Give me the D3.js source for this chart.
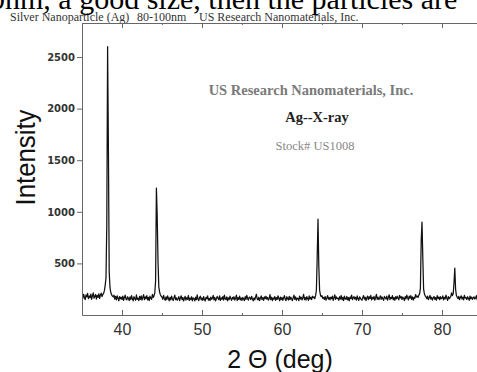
<!DOCTYPE html>
<html>
<head>
<meta charset="utf-8">
<script src="https://cdn.jsdelivr.net/npm/d3@7"></script>
<style>
  body { margin: 0; background: #fff; }
  svg { display: block; }
</style>
</head>
<body>
<div id="chart"></div>
<script>
// scan: 2-theta from 35.0 deg, 0.1 deg per reading (one row per degree)
var thetaStart = 35.0, thetaStep = 0.1;
var intensity = [
  188,162,201,171,148,195,177,210,158,183, // 35
  169,203,151,186,214,163,179,199,155,190, // 36
  172,205,160,193,212,178,198,210,236,290, // 37
  360,880,2600,1620,420,265,218,197,183,176, // 38
  192,154,181,146,186,163,138,179,157,172, // 39
  149,183,141,170,192,155,146,177,161,139, // 40
  175,150,188,156,137,178,160,143,194,152, // 41
  163,140,181,152,185,144,171,197,148,176, // 42
  158,187,146,170,139,182,163,151,199,170, // 43
  185,215,330,1230,960,520,275,222,196,182, // 44
  174,151,190,160,143,176,149,185,162,138, // 45
  171,147,183,155,140,169,192,150,166,143, // 46
  157,178,139,164,186,148,171,136,160,181, // 47
  145,168,152,189,141,163,150,177,138,166, // 48
  159,137,172,148,195,153,140,168,182,147, // 49
  165,142,179,150,137,170,158,186,144,161, // 50
  139,174,152,163,190,146,171,137,158,180, // 51
  162,148,185,141,166,153,178,145,192,157, // 52
  150,176,138,167,149,183,160,142,171,155, // 53
  177,145,162,193,140,168,151,182,147,165, // 54
  141,170,156,139,178,152,190,161,144,173, // 55
  168,149,181,158,137,166,147,175,201,154, // 56
  146,172,139,163,185,150,168,142,176,158, // 57
  182,153,170,144,161,197,149,172,140,165, // 58
  155,179,143,168,151,186,162,138,174,149, // 59
  170,142,164,188,153,140,177,159,145,181, // 60
  148,173,157,139,169,192,151,176,143,163, // 61
  161,140,184,155,172,146,166,199,150,170, // 62
  145,178,160,142,186,154,171,149,182,168, // 63
  175,158,190,240,560,930,480,240,195,178, // 64
  186,162,170,151,179,144,165,188,153,170, // 65
  147,172,158,183,141,167,196,152,175,160, // 66
  163,143,177,155,189,148,170,139,182,158, // 67
  152,180,146,169,137,174,160,192,149,166, // 68
  178,154,171,145,186,157,141,176,163,150, // 69
  144,169,188,153,172,140,165,183,150,177, // 70
  160,191,147,170,156,181,143,168,199,152, // 71
  173,149,164,186,151,175,158,142,180,166, // 72
  155,182,145,168,196,150,171,159,187,148, // 73
  169,143,177,156,183,162,147,190,165,178, // 74
  150,174,161,140,179,157,193,168,146,182, // 75
  163,188,152,176,145,171,160,198,175,183, // 76
  170,192,205,260,720,900,560,250,205,185, // 77
  176,158,183,149,168,190,154,172,145,166, // 78
  180,151,169,143,187,160,174,148,178,157, // 79
  162,185,147,171,156,193,165,141,179,158, // 80
  167,179,215,188,205,310,455,250,188,172, // 81
  158,181,149,170,186,155,173,146,190,164, // 82
  169,150,177,161,142,183,157,174,151,168, // 83
  176,155,165,188,147,172,160,181,153,170  // 84
];

var xTicks = [40, 50, 60, 70, 80];
var xMinorTicks = [35, 45, 55, 65, 75, 85];
var yTicks = [500, 1000, 1500, 2000, 2500];

var W = 477, H = 372;
var plot = {left: 82, top: 23, right: 482, bottom: 315};

var svg = d3.select("#chart").append("svg")
    .attr("width", W)
    .attr("height", H);

var x = d3.scaleLinear().domain([35, 85]).range([plot.left, plot.right]);
var y = d3.scaleLinear().domain([0, 2830]).range([plot.bottom, plot.top]);

// clipped text of the page above the picture
svg.append("text")
    .attr("x", -10).attr("y", 9)
    .style("font-family", "'Liberation Serif', serif")
    .style("font-size", "30px")
    .attr("fill", "#000")
    .text("0nm, a good size, then the particles are");

// caption line (white backing so it reads over the clipped line above)
var cap = svg.append("g")
    .style("font-family", "'Liberation Serif', serif")
    .style("font-size", "12px")
    .attr("fill", "#333");
cap.append("text").attr("x", 10).attr("y", 21).text("Silver Nanoparticle (Ag)");
cap.append("text").attr("x", 137).attr("y", 21).text("80-100nm");
cap.append("text").attr("x", 199).attr("y", 21).text("US Research Nanomaterials, Inc.");

// the scan
svg.append("clipPath").attr("id", "clip")
  .append("rect")
    .attr("x", plot.left).attr("y", plot.top)
    .attr("width", W - plot.left).attr("height", plot.bottom - plot.top);

var line = d3.line()
    .x(function(d, i) { return x(thetaStart + i * thetaStep); })
    .y(function(d) { return y(d); });

svg.append("path")
    .datum(intensity)
    .attr("clip-path", "url(#clip)")
    .attr("fill", "none")
    .attr("stroke", "#111")
    .attr("stroke-width", 1.25)
    .attr("stroke-linejoin", "round")
    .attr("d", line);

// axes
var axisColor = "#666";

var gx = svg.append("g")
    .attr("transform", "translate(0," + plot.bottom + ")")
    .call(d3.axisBottom(x).tickValues(xTicks).tickSizeInner(-5).tickSizeOuter(0).tickPadding(9));
gx.selectAll("text")
    .style("font-family", "'Liberation Sans', Arial, sans-serif")
    .style("font-size", "16px")
    .attr("fill", "#333");

svg.append("g")
    .attr("transform", "translate(0," + plot.bottom + ")")
    .call(d3.axisBottom(x).tickValues(xMinorTicks).tickSizeInner(-2).tickSizeOuter(0).tickFormat(""))
    .select(".domain").remove();

svg.append("g")
    .attr("transform", "translate(0," + plot.top + ")")
    .call(d3.axisTop(x).tickValues(xTicks).tickSizeInner(-5).tickSizeOuter(0).tickFormat(""));
svg.append("g")
    .attr("transform", "translate(0," + plot.top + ")")
    .call(d3.axisTop(x).tickValues(xMinorTicks).tickSizeInner(-2).tickSizeOuter(0).tickFormat(""))
    .select(".domain").remove();

var gy = svg.append("g")
    .attr("transform", "translate(" + plot.left + ",0)")
    .call(d3.axisLeft(y).tickValues(yTicks).tickFormat(d3.format("d"))
      .tickSizeInner(5).tickSizeOuter(0).tickPadding(2));
gy.selectAll("text")
    .style("font-family", "'DejaVu Sans', sans-serif")
    .style("font-size", "10px")
    .style("font-weight", "bold")
    .attr("fill", "#333");

svg.selectAll(".domain, .tick line").attr("stroke", axisColor);

// axis titles
svg.append("text")
    .attr("transform", "translate(34.5,157.5) rotate(-90)")
    .attr("text-anchor", "middle")
    .style("font-family", "'Liberation Sans', Arial, sans-serif")
    .style("font-size", "27px")
    .attr("textLength", 96)
    .attr("lengthAdjust", "spacingAndGlyphs")
    .attr("fill", "#111")
    .text("Intensity");

svg.append("text")
    .attr("x", 280).attr("y", 368)
    .attr("text-anchor", "middle")
    .style("font-family", "'Liberation Sans', Arial, sans-serif")
    .style("font-size", "25px")
    .attr("fill", "#111")
    .text("2 \u0398 (deg)");

// labels inside the plot
var note = svg.append("g")
    .style("font-family", "'Liberation Serif', serif")
    .attr("text-anchor", "middle");
note.append("text")
    .attr("x", 311).attr("y", 95)
    .style("font-size", "14.5px").style("font-weight", "bold")
    .attr("fill", "#7a7a7a")
    .text("US Research Nanomaterials, Inc.");
note.append("text")
    .attr("x", 317).attr("y", 122)
    .style("font-size", "14.5px").style("font-weight", "bold")
    .attr("fill", "#222")
    .text("Ag--X-ray");
note.append("text")
    .attr("x", 315).attr("y", 150)
    .style("font-size", "12.5px")
    .attr("fill", "#888")
    .text("Stock# US1008");
</script>
</body>
</html>
